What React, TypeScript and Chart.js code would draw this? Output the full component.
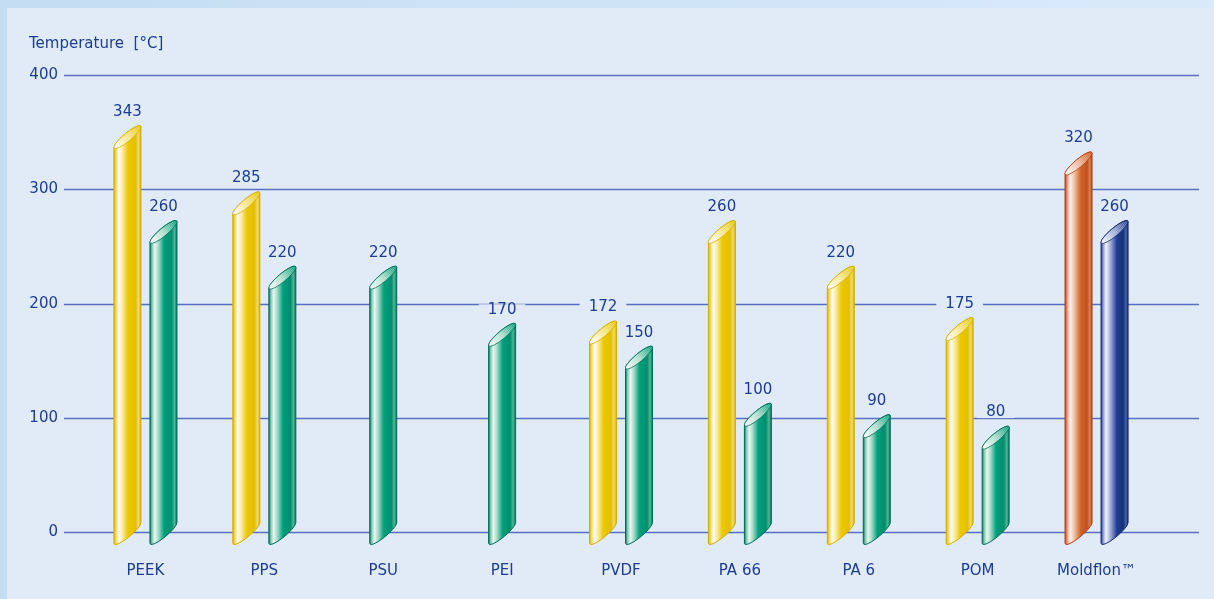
import React, { useEffect, useRef } from "react";
import { Chart, registerables } from "chart.js";

Chart.register(...registerables);

const categories = ["PEEK", "PPS", "PSU", "PEI", "PVDF", "PA 66", "PA 6", "POM", "Moldflon™"];
const firstValues: (number | null)[] = [343, 285, null, null, 172, 260, 220, 175, 320];
const secondValues: (number | null)[] = [260, 220, 220, 170, 150, 100, 90, 80, 260];
const yTickValues = [0, 100, 200, 300, 400];
const yTitle = "Temperature  [°C]";
const highlightCategory = "Moldflon™";

const TEXT = "#1d3c92";
const PANEL = "#e0ebf7";
const FONT = '"DejaVu Sans", "Noto Sans", sans-serif';

type Pal = { stops: [number, string][]; outline: string; cap: [string, string, string] };

const PALETTES: Record<string, Pal> = {
  yellow: {
    stops: [[0, "#dcb600"], [0.07, "#f2d550"], [0.18, "#fffdf0"], [0.32, "#f9eaa6"], [0.52, "#ecc800"], [0.8, "#e3bf00"], [0.91, "#f1da70"], [1, "#d8b200"]],
    outline: "#d2ae00",
    cap: ["#ffffff", "#f8e68a", "#e9c500"],
  },
  green: {
    stops: [[0, "#00745a"], [0.07, "#7cc8b0"], [0.18, "#eaf7f2"], [0.32, "#9fd8c4"], [0.52, "#00a07c"], [0.8, "#008e6e"], [0.91, "#52b597"], [1, "#00725a"]],
    outline: "#006d55",
    cap: ["#ffffff", "#a6dcc9", "#009e7a"],
  },
  orange: {
    stops: [[0, "#c2401c"], [0.07, "#e48c70"], [0.18, "#fff6f0"], [0.34, "#f1c2a4"], [0.58, "#d0642a"], [0.82, "#c0501c"], [0.92, "#d98555"], [1, "#b03f14"]],
    outline: "#b03e18",
    cap: ["#ffffff", "#f0b898", "#c85a20"],
  },
  navy: {
    stops: [[0, "#1f3b92"], [0.07, "#8393cc"], [0.18, "#f4f6fc"], [0.34, "#a5b0da"], [0.58, "#223e94"], [0.82, "#15307a"], [0.92, "#4c62aa"], [1, "#132b70"]],
    outline: "#14296c",
    cap: ["#ffffff", "#9eaad6", "#1d3a8c"],
  },
};

function paletteFor(di: number, i: number): Pal {
  const isHi = categories[i] === highlightCategory;
  return di === 0 ? (isHi ? PALETTES.orange : PALETTES.yellow) : isHi ? PALETTES.navy : PALETTES.green;
}

function drawCylinder(ctx: CanvasRenderingContext2D, cx: number, yTop: number, yBase: number, w: number, pal: Pal) {
  const W = w / 2;
  const phi = (-40 * Math.PI) / 180;
  const b = 4;
  const s = Math.sin(phi), c = Math.cos(phi);
  const a = Math.sqrt(Math.max(W * W - b * b * s * s, 1)) / c;
  const tr = Math.atan2(-b * s, a * c);
  const xr = a * Math.cos(tr) * c - b * Math.sin(tr) * s;
  const yr = a * Math.cos(tr) * s + b * Math.sin(tr) * c;
  const cyTop = yTop - 3;
  const cyBot = yBase + 1;
  const x0 = cx - W, x1 = cx + W;

  ctx.save();
  ctx.beginPath();
  ctx.ellipse(cx, cyTop, a, b, phi, tr - Math.PI, tr, false);
  ctx.lineTo(cx + xr, cyBot + yr);
  ctx.ellipse(cx, cyBot, a, b, phi, tr, tr + Math.PI, false);
  ctx.closePath();
  const g = ctx.createLinearGradient(x0, 0, x1, 0);
  pal.stops.forEach(([o, col]) => g.addColorStop(o, col));
  ctx.fillStyle = g;
  ctx.fill();
  ctx.lineWidth = 1;
  ctx.strokeStyle = pal.outline;
  ctx.stroke();

  ctx.beginPath();
  ctx.ellipse(cx, cyTop, a, b, phi, 0, Math.PI * 2);
  const cg = ctx.createLinearGradient(cx - a * c, cyTop - a * s, cx + a * c, cyTop + a * s);
  cg.addColorStop(0, pal.cap[0]);
  cg.addColorStop(0.5, pal.cap[1]);
  cg.addColorStop(1, pal.cap[2]);
  ctx.fillStyle = cg;
  ctx.fill();
  ctx.save();
  ctx.clip();
  ctx.strokeStyle = "rgba(255,255,255,0.45)";
  ctx.lineWidth = 0.6;
  for (let k = -a; k <= a; k += 1.6) {
    const px = cx + k * c, py = cyTop + k * s;
    ctx.beginPath();
    ctx.moveTo(px - 12 * s, py + 12 * c);
    ctx.lineTo(px + 12 * s, py - 12 * c);
    ctx.stroke();
  }
  ctx.restore();
  ctx.beginPath();
  ctx.ellipse(cx, cyTop, a, b, phi, 0, Math.PI * 2);
  ctx.lineWidth = 0.8;
  ctx.strokeStyle = pal.outline;
  ctx.stroke();
  ctx.restore();
}

const decorPlugin = {
  id: "decor",
  beforeDraw(chart: any) {
    const ctx: CanvasRenderingContext2D = chart.ctx;
    const { width, height } = chart;
    ctx.save();
    const og = ctx.createLinearGradient(0, 0, width, 0);
    og.addColorStop(0, "#c4ddf3");
    og.addColorStop(1, "#d9eafa");
    ctx.fillStyle = og;
    ctx.fillRect(0, 0, width, height);
    ctx.fillStyle = PANEL;
    ctx.fillRect(7, 8, width - 7, height - 8);
    ctx.restore();
  },
  beforeDatasetsDraw(chart: any) {
    const ctx: CanvasRenderingContext2D = chart.ctx;
    const y = chart.scales.y;
    const x = chart.scales.x;
    ctx.save();
    ctx.strokeStyle = "#5a6ebe";
    ctx.lineWidth = 1.6;
    ctx.fillStyle = TEXT;
    ctx.font = `15px ${FONT}`;
    ctx.textAlign = "right";
    ctx.textBaseline = "middle";
    yTickValues.forEach((v) => {
      const py = Math.round(y.getPixelForValue(v)) + 0.5;
      ctx.beginPath();
      ctx.moveTo(64, py);
      ctx.lineTo(1199, py);
      ctx.stroke();
      ctx.fillText(String(v), 58, py);
    });
    ctx.textAlign = "left";
    ctx.fillText(yTitle, 29, 44);
    ctx.textAlign = "center";
    categories.forEach((cat, i) => {
      ctx.fillText(cat, x.getPixelForValue(i), 571);
    });
    // value labels (drawn before bars so bars overlay the label backgrounds)
    chart.data.datasets.forEach((ds: any, di: number) => {
      const meta = chart.getDatasetMeta(di);
      meta.data.forEach((el: any, i: number) => {
        const v = ds.data[i];
        if (v === null || v === undefined) return;
        const t = String(v);
        const ly = el.y - 28;
        const tw = ctx.measureText(t).width;
        ctx.fillStyle = PANEL;
        ctx.fillRect(el.x - tw / 2 - 9, ly - 5.5, tw + 18, 11);
        ctx.fillStyle = TEXT;
        ctx.fillText(t, el.x, ly);
      });
    });
    ctx.restore();
  },
  afterDatasetsDraw(chart: any) {
    const ctx: CanvasRenderingContext2D = chart.ctx;
    chart.data.datasets.forEach((ds: any, di: number) => {
      const meta = chart.getDatasetMeta(di);
      meta.data.forEach((el: any, i: number) => {
        const v = ds.data[i];
        if (v === null || v === undefined) return;
        drawCylinder(ctx, el.x, el.y, el.base, el.width, paletteFor(di, i));
      });
    });
  },
};

export default function App() {
  const ref = useRef<HTMLCanvasElement | null>(null);
  useEffect(() => {
    document.body.style.margin = "0";
    const canvas = ref.current!;
    const chart = new Chart(canvas, {
      type: "bar",
      data: {
        labels: categories,
        datasets: [
          { label: "A", data: firstValues, backgroundColor: "rgba(0,0,0,0)", borderWidth: 0, skipNull: true, maxBarThickness: 27 } as any,
          { label: "B", data: secondValues, backgroundColor: "rgba(0,0,0,0)", borderWidth: 0, skipNull: true, maxBarThickness: 27 } as any,
        ],
      },
      options: {
        responsive: false,
        animation: false,
        devicePixelRatio: 1,
        layout: { padding: { left: 86, right: 58, top: 75, bottom: 67 } },
        datasets: { bar: { categoryPercentage: 0.606, barPercentage: 0.75 } },
        plugins: { legend: { display: false }, tooltip: { enabled: false }, title: { display: false } },
        scales: {
          x: { display: false },
          y: { display: false, min: yTickValues[0], max: yTickValues[yTickValues.length - 1], ticks: { stepSize: 100 } },
        },
      },
      plugins: [decorPlugin],
    });
    return () => chart.destroy();
  }, []);
  return (
    <div style={{ position: "fixed", left: 0, top: 0, width: 1214, height: 599 }}>
      <canvas ref={ref} width={1214} height={599} style={{ display: "block" }} />
    </div>
  );
}
